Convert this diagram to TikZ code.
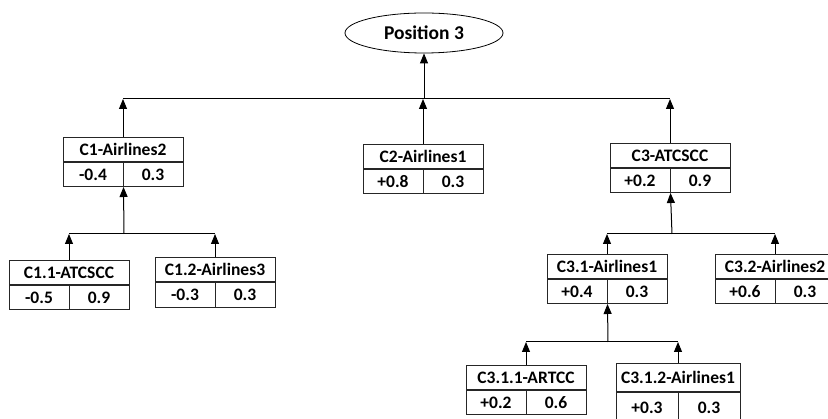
\documentclass[tikz,border=0pt]{standalone}
\usepackage{fontspec}
\setmainfont{Carlito}
\usetikzlibrary{shapes.geometric, arrows.meta}
\tikzstyle{arrow} = [line width=1pt,-{Triangle[length=10pt,width=8pt]}]
\tikzstyle{bus} = [line width=1pt]
\tikzstyle{root} = [ellipse, minimum width=158pt, minimum height=40pt, draw=black, line width=0.8pt, inner sep=0pt, font=\fontsize{19.5}{22}\selectfont\bfseries]
\tikzstyle{head} = [rectangle, anchor=north, minimum width=120pt, minimum height=24pt, inner sep=0pt, draw=black!85, line width=1pt]
\tikzstyle{cell} = [rectangle, minimum width=60pt, minimum height=24pt, inner sep=0pt, draw=black!85, line width=1pt]

\begin{document}
\begin{tikzpicture}[x=1pt, y=-1pt, font=\fontsize{17.5}{20}\selectfont\bfseries]
		\useasboundingbox (0,0) rectangle (828,419);
		\node (pos) [root] at (424,33) {Position 3};
		% first level
		\node (c1) [head] at (123,137) {C1-Airlines2};
		\node (c1l) [cell, anchor=north west] at (c1.south west) {-0.4};
		\node (c1r) [cell, anchor=north east] at (c1.south east) {0.3};
		\node (c2) [head] at (423,144) {C2-Airlines1};
		\node (c2l) [cell, anchor=north west] at (c2.south west) {+0.8};
		\node (c2r) [cell, anchor=north east] at (c2.south east) {0.3};
		\node (c3) [head] at (670,143) {C3-ATCSCC};
		\node (c3l) [cell, anchor=north west] at (c3.south west) {+0.2};
		\node (c3r) [cell, anchor=north east] at (c3.south east) {0.9};
		% second level
		\node (c11) [head] at (69,260) {C1.1-ATCSCC};
		\node (c11l) [cell, anchor=north west] at (c11.south west) {-0.5};
		\node (c11r) [cell, anchor=north east] at (c11.south east) {0.9};
		\node (c12) [head] at (215,257) {C1.2-Airlines3};
		\node (c12l) [cell, anchor=north west, minimum height=25pt] at (c12.south west) {-0.3};
		\node (c12r) [cell, anchor=north east, minimum height=25pt] at (c12.south east) {0.3};
		\node (c31) [head] at (607,254) {C3.1-Airlines1};
		\node (c31l) [cell, anchor=north west] at (c31.south west) {+0.4};
		\node (c31r) [cell, anchor=north east] at (c31.south east) {0.3};
		\node (c32) [head] at (775,254) {C3.2-Airlines2};
		\node (c32l) [cell, anchor=north west] at (c32.south west) {+0.6};
		\node (c32r) [cell, anchor=north east] at (c32.south east) {0.3};
		% third level
		\node (c311) [head] at (526,365) {C3.1.1-ARTCC};
		\node (c311l) [cell, anchor=north west] at (c311.south west) {+0.2};
		\node (c311r) [cell, anchor=north east] at (c311.south east) {0.6};
		\node (c312) [head, minimum width=124pt, minimum height=28pt] at (678,363) {C3.1.2-Airlines1};
		\node (c312l) [cell, anchor=north west, minimum width=62pt, minimum height=30pt] at (c312.south west) {+0.3};
		\node (c312r) [cell, anchor=north east, minimum width=62pt, minimum height=30pt] at (c312.south east) {0.3};
		% bus lines
		\coordinate (top) at (424,99);
		\coordinate (b1) at (124,234);
		\coordinate (b3) at (672,234);
		\coordinate (b31) at (608,342);
		\draw [bus] (c1.north |- top) -- (c3.north |- top);
		\draw [bus] (c11.north |- b1) -- (c12.north |- b1);
		\draw [bus] (c31.north |- b3) -- (c32.north |- b3);
		\draw [bus] (c311.north |- b31) -- (c312.north |- b31);
		% arrows
		\draw [arrow] (top) -- (pos);
		\draw [arrow] (c1.north) -- (c1.north |- top);
		\draw [arrow] (c2.north) -- (c2.north |- top);
		\draw [arrow] (c3.north) -- (c3.north |- top);
		\draw [arrow] (b1) -- (c1l.south east);
		\draw [arrow] (c11.north) -- (c11.north |- b1);
		\draw [arrow] (c12.north) -- (c12.north |- b1);
		\draw [arrow] (b3) -- (c3l.south east);
		\draw [arrow] (c31.north) -- (c31.north |- b3);
		\draw [arrow] (c32.north) -- (c32.north |- b3);
		\draw [arrow] (b31) -- (c31l.south east);
		\draw [arrow] (c311.north) -- (c311.north |- b31);
		\draw [arrow] (c312.north) -- (c312.north |- b31);
	\end{tikzpicture}
\end{document}
